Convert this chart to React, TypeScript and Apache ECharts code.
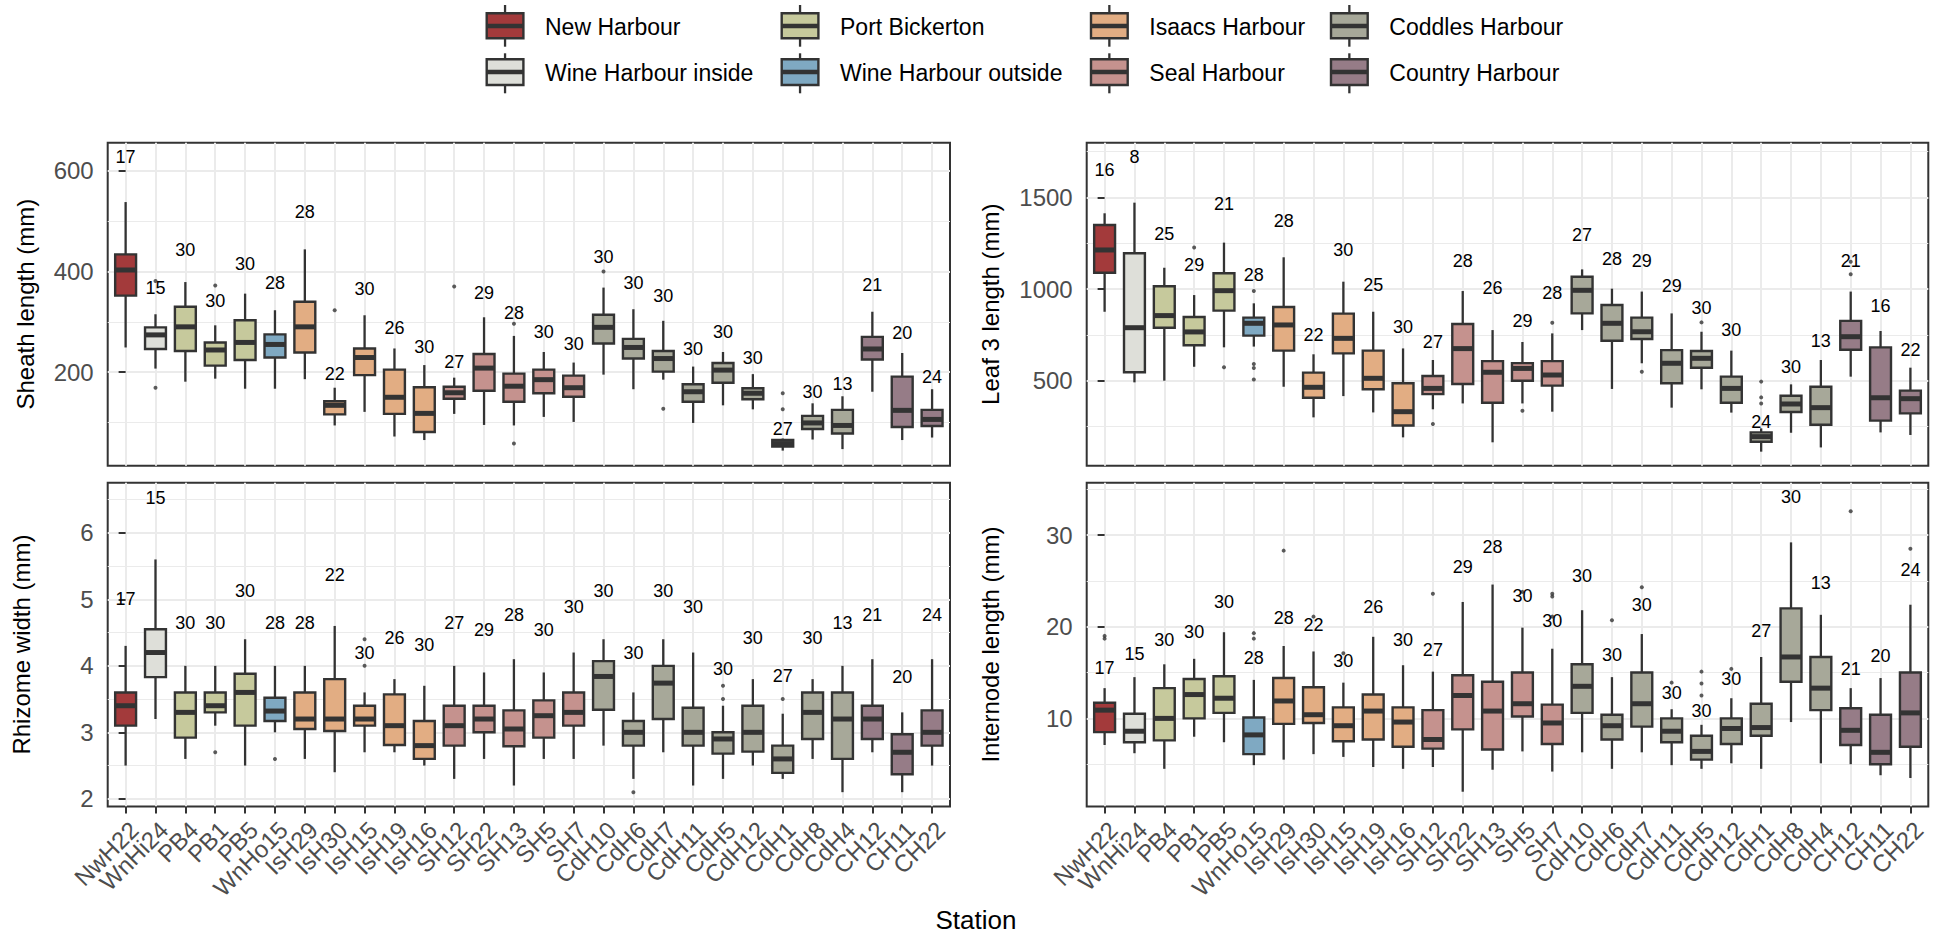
import React, { useEffect, useRef } from 'react';
import * as echarts from 'echarts';

const stations = ['NwH22','WnHi24','PB4','PB1','PB5','WnHo15','IsH29','IsH30','IsH15','IsH19','IsH16','SH12','SH22','SH13','SH5','SH7','CdH10','CdH6','CdH7','CdH11','CdH5','CdH12','CdH1','CdH8','CdH4','CH12','CH11','CH22'];
const groups = ['New Harbour','Wine Harbour inside','Port Bickerton','Wine Harbour outside','Isaacs Harbour','Seal Harbour','Coddles Harbour','Country Harbour'];
const groupColors = ['#A33A3B','#DEDFD9','#C6C99C','#7FA9C2','#E2AD83','#C5928E','#A7A899','#967C87'];
const stationGroup = [0,1,2,2,2,3,4,4,4,4,4,5,5,5,5,5,6,6,6,6,6,6,6,6,6,7,7,7];

// [lower whisker, Q1, median, Q3, upper whisker]
const sheathStats = [
  [249,352,403,434,538],[207,246,274,289,315],[181,242,290,330,379],[187,213,244,259,293],
  [167,224,259,303,356],[167,229,255,275,323],[186,239,290,340,444],[94,116,134,142,169],
  [121,194,229,247,313],[72,117,150,205,247],[65,81,118,170,214],[117,147,159,171,189],
  [95,163,208,236,309],[94,141,172,197,272],[111,158,185,205,240],[101,151,169,193,219],
  [195,257,289,314,368],[166,227,249,266,325],[185,201,227,242,302],[99,141,161,176,211],
  [134,179,204,218,240],[126,146,158,168,196],[44,52,58,65,68],[66,87,99,113,138],
  [47,78,94,125,152],[161,225,246,270,320],[65,91,124,191,238],[70,93,106,125,166]
];
const sheathOutliers = [[1,381],[1,169],[3,372],[7,323],[11,370],[13,296],[13,58],[16,400],[18,127],[22,158],[22,126]];
const sheathN = [17,15,30,30,30,28,28,22,30,26,30,27,29,28,30,30,30,30,30,30,30,30,27,30,13,21,20,24];
const sheathLabelY = [627,368,442,341,414,378,519,197,366,288,249,221,358,318,279,256,428,378,352,246,280,229,87,160,176,373,278,191];

const leafStats = [
  [876,1089,1213,1349,1413],[491,546,789,1195,1471],[500,789,855,1015,1116],[576,693,766,847,967],
  [682,882,991,1086,1253],[686,746,813,844,922],[467,664,804,902,1173],[300,407,464,544,644],
  [416,649,731,866,1040],[327,453,513,664,876],[191,256,331,486,676],[344,427,458,526,613],
  [376,482,675,809,989],[164,380,546,607,776],[376,500,567,596,711],[331,473,531,607,758],
  [776,867,993,1067,1107],[455,718,813,913,1002],[595,727,767,844,986],[353,486,595,667,867],
  [453,571,622,662,767],[326,380,458,522,664],[113,167,195,218,240],[216,329,373,418,480],
  [136,260,353,467,613],[522,669,740,826,986],[218,282,407,682,771],[204,322,402,446,571]
];
const leafOutliers = [[3,1227],[4,573],[5,989],[5,591],[5,569],[5,507],[11,264],[14,336],[15,816],[18,549],[20,818],[22,495],[22,409],[22,376],[25,1080],[25,1149]];
const leafN = [16,8,25,29,21,28,28,22,30,25,30,27,28,26,29,28,27,28,29,29,30,30,24,30,13,21,16,22];
const leafLabelY = [1649,1718,1298,1131,1464,1076,1373,749,1213,1022,791,713,1155,1005,827,981,1293,1166,1153,1016,895,776,276,573,716,1153,907,667];

const rhizomeStats = [
  [2.5,3.1,3.4,3.6,4.3],[3.2,3.83,4.2,4.55,5.6],[2.6,2.92,3.3,3.6,4.0],[3.1,3.3,3.4,3.6,4.0],
  [2.5,3.1,3.6,3.88,4.4],[3.0,3.17,3.32,3.52,4.0],[2.6,3.05,3.2,3.6,4.0],[2.4,3.02,3.2,3.8,4.6],
  [2.7,3.1,3.2,3.4,3.6],[2.7,2.81,3.1,3.57,3.8],[2.5,2.6,2.8,3.17,3.7],[2.3,2.8,3.1,3.4,4.0],
  [2.6,3.0,3.2,3.4,3.9],[2.2,2.79,3.05,3.33,4.1],[2.6,2.92,3.25,3.48,3.9],[2.6,3.1,3.3,3.6,4.2],
  [2.8,3.34,3.84,4.07,4.4],[2.3,2.8,3.0,3.17,3.6],[2.7,3.2,3.74,4.0,4.4],[2.2,2.8,3.0,3.37,4.2],
  [2.3,2.68,2.9,3.0,3.4],[2.5,2.71,3.0,3.4,3.8],[2.3,2.39,2.6,2.8,3.28],[2.6,2.9,3.3,3.6,3.8],
  [2.1,2.6,3.2,3.6,4.0],[2.7,2.9,3.2,3.4,4.1],[2.1,2.37,2.7,2.97,3.3],[2.5,2.8,3.0,3.33,4.1]
];
const rhizomeOutliers = [[3,2.7],[5,2.6],[8,4.4],[8,4.0],[17,2.1],[20,3.7],[20,3.5],[22,3.5]];
const rhizomeN = [17,15,30,30,30,28,28,22,30,26,30,27,29,28,30,30,30,30,30,30,30,30,27,30,13,21,20,24];
const rhizomeLabelY = [5.01,6.53,4.65,4.65,5.13,4.65,4.65,5.36,4.19,4.42,4.31,4.65,4.54,4.77,4.54,4.89,5.13,4.19,5.13,4.89,3.95,4.42,3.84,4.42,4.65,4.77,3.83,4.77];

const internodeStats = [
  [7.1,8.5,10.9,11.7,13.3],[6.2,7.4,8.6,10.5,14.5],[4.5,7.6,10.0,13.3,15.9],[8.0,10.0,12.6,14.3,16.5],
  [7.4,10.6,12.2,14.6,19.4],[4.9,6.1,8.2,10.1,14.2],[5.5,9.4,11.9,14.4,17.9],[6.1,9.5,10.4,13.4,17.3],
  [5.8,7.5,9.2,11.2,13.9],[4.7,7.7,10.8,12.6,18.9],[4.5,6.9,9.6,11.2,15.8],[4.7,6.7,7.7,10.9,15.1],
  [2.0,8.8,12.5,14.7,22.7],[4.4,6.6,10.8,14.0,24.6],[6.4,10.2,11.6,15.0,19.9],[4.2,7.2,9.5,11.5,17.6],
  [6.3,10.6,13.5,15.9,21.8],[4.5,7.7,9.2,10.4,14.5],[6.3,9.1,11.6,15.0,19.2],[4.9,7.4,8.6,10.0,11.0],
  [4.5,5.5,6.4,8.1,9.3],[5.1,7.2,8.9,10.0,12.2],[4.5,8.1,9.0,11.6,16.7],[9.6,14.0,16.7,22.0,29.2],
  [5.1,10.9,13.3,16.7,21.3],[5.0,7.1,8.7,11.1,13.3],[3.8,5.0,6.3,10.4,14.4],[3.5,6.9,10.6,15.0,22.4]
];
const internodeOutliers = [[0,19.0],[0,18.7],[5,19.3],[5,18.7],[6,28.3],[7,21.1],[8,17.1],[11,23.6],[14,23.8],[15,23.6],[15,23.3],[15,21.1],[17,20.7],[18,24.3],[19,13.9],[20,15.1],[20,13.8],[20,12.5],[21,15.4],[25,32.6],[27,28.5]];
const internodeN = [17,15,30,30,30,28,28,22,30,26,30,27,29,28,30,30,30,30,30,30,30,30,27,30,13,21,20,24];
const internodeLabelY = [15.5,17.0,18.6,19.4,22.7,16.6,20.9,20.2,16.3,22.1,18.5,17.5,26.5,28.7,23.3,20.6,25.5,16.9,22.4,12.8,10.8,14.3,19.5,34.1,24.8,15.4,16.8,26.2];

const sheathTicks = [200, 400, 600];
const sheathMinor = [100, 300, 500];
const leafTicks = [500, 1000, 1500];
const leafMinor = [250, 750, 1250, 1750];
const rhizomeTicks = [2, 3, 4, 5, 6];
const rhizomeMinor = [2.5, 3.5, 4.5, 5.5, 6.5];
const internodeTicks = [10, 20, 30];
const internodeMinor = [5, 15, 25, 35];

const FONT = '"Liberation Sans", Arial, Helvetica, sans-serif';
const DARK = '#333333';
const GRID = '#EBEBEB';

export default function App() {
  const ref = useRef<HTMLDivElement>(null);
  useEffect(() => {
    const chart = echarts.init(ref.current!, null, { renderer: 'svg' });
    const idxs = stations.map((_, i) => i);
    const evens = idxs.filter((i) => i % 2 === 0);
    const odds = idxs.filter((i) => i % 2 === 1);

    const panels = [
      { title: 'Sheath length (mm)', stats: sheathStats, out: sheathOutliers, n: sheathN, ly: sheathLabelY, min: 14, max: 656, ticks: sheathTicks, minor: sheathMinor, left: 107.7, top: 142.7, width: 842.3, height: 323, gap: 70, bottom: false },
      { title: 'Leaf 3 length (mm)', stats: leafStats, out: leafOutliers, n: leafN, ly: leafLabelY, min: 36.4, max: 1798, ticks: leafTicks, minor: leafMinor, left: 1086.7, top: 142.7, width: 841.6, height: 323, gap: 84, bottom: false },
      { title: 'Rhizome width (mm)', stats: rhizomeStats, out: rhizomeOutliers, n: rhizomeN, ly: rhizomeLabelY, min: 1.886, max: 6.754, ticks: rhizomeTicks, minor: rhizomeMinor, left: 107.7, top: 482.7, width: 842.3, height: 323.7, gap: 74, bottom: true },
      { title: 'Internode length (mm)', stats: internodeStats, out: internodeOutliers, n: internodeN, ly: internodeLabelY, min: 0.4, max: 35.71, ticks: internodeTicks, minor: internodeMinor, left: 1086.7, top: 482.7, width: 841.6, height: 323.7, gap: 84, bottom: true },
    ];

    const grid: any[] = [];
    const xAxis: any[] = [];
    const yAxis: any[] = [];
    const series: any[] = [];

    const boxRender = (params: any, api: any) => {
      const i = api.value(0);
      const lo = api.coord([i, api.value(1)]);
      const q1 = api.coord([i, api.value(2)]);
      const md = api.coord([i, api.value(3)]);
      const q3 = api.coord([i, api.value(4)]);
      const hi = api.coord([i, api.value(5)]);
      const w = api.size([0.7, 0])[0];
      const x = lo[0];
      const fill = groupColors[stationGroup[i]];
      return {
        type: 'group',
        children: [
          { type: 'line', shape: { x1: x, y1: hi[1], x2: x, y2: q3[1] }, style: { stroke: DARK, lineWidth: 2.3 } },
          { type: 'line', shape: { x1: x, y1: q1[1], x2: x, y2: lo[1] }, style: { stroke: DARK, lineWidth: 2.3 } },
          { type: 'rect', shape: { x: x - w / 2, y: q3[1], width: w, height: q1[1] - q3[1] }, style: { fill, stroke: DARK, lineWidth: 2.4 } },
          { type: 'line', shape: { x1: x - w / 2, y1: md[1], x2: x + w / 2, y2: md[1] }, style: { stroke: DARK, lineWidth: 5 } },
        ],
      };
    };

    const textRender = (params: any, api: any) => {
      const p = api.coord([api.value(0), api.value(1)]);
      return {
        type: 'text', x: p[0], y: p[1],
        style: { text: String(api.value(2)), fill: '#000', fontSize: 18, fontFamily: FONT, align: 'center', verticalAlign: 'middle' },
      };
    };

    const labelAxis = (g: number, values: number[]) => ({
      type: 'value', gridIndex: g, min: -0.6, max: 27.6, position: 'bottom',
      axisLine: { show: false },
      axisTick: { show: true, customValues: values, length: 7, lineStyle: { color: DARK, width: 2 } },
      axisLabel: {
        show: true, customValues: values, formatter: (v: number) => stations[Math.round(Number(v))] ?? '',
        showMinLabel: true, showMaxLabel: true, hideOverlap: false,
        rotate: 45, align: 'right', verticalAlign: 'top', margin: 11, fontSize: 24, color: '#4D4D4D', fontFamily: FONT,
      },
      splitLine: { show: false },
    });

    panels.forEach((p, g) => {
      grid.push({ left: p.left, top: p.top, width: p.width, height: p.height, show: true, borderColor: DARK, borderWidth: 2, backgroundColor: 'transparent' });
      const baseX = xAxis.length;
      xAxis.push({
        type: 'value', gridIndex: g, min: -0.6, max: 27.6, position: 'bottom',
        axisLine: { show: false },
        axisTick: { show: false, customValues: idxs },
        axisLabel: { show: false, customValues: idxs },
        splitLine: { show: true, lineStyle: { color: GRID, width: 2 } },
      });
      if (p.bottom) {
        xAxis.push(labelAxis(g, evens));
        xAxis.push(labelAxis(g, odds));
      }
      const baseY = yAxis.length;
      yAxis.push({
        type: 'value', gridIndex: g, min: p.min, max: p.max, position: 'left',
        axisLine: { show: false },
        axisTick: { show: true, customValues: p.ticks, length: 7, lineStyle: { color: DARK, width: 2 } },
        axisLabel: { customValues: p.ticks, formatter: (v: number) => String(v), showMinLabel: true, showMaxLabel: true, fontSize: 24, color: '#4D4D4D', margin: 14, fontFamily: FONT },
        splitLine: { show: true, lineStyle: { color: GRID, width: 2 } },
        name: p.title, nameLocation: 'middle', nameGap: p.gap,
        nameTextStyle: { fontSize: 24, color: '#000', fontFamily: FONT },
      });
      yAxis.push({
        type: 'value', gridIndex: g, min: p.min, max: p.max, position: 'left',
        axisLine: { show: false },
        axisTick: { show: false, customValues: p.minor },
        axisLabel: { show: false, customValues: p.minor },
        splitLine: { show: true, lineStyle: { color: GRID, width: 1.2 } },
      });
      series.push({
        type: 'custom', xAxisIndex: baseX, yAxisIndex: baseY,
        data: p.stats.map((s, i) => [i, ...s]),
        encode: { x: 0, y: [1, 2, 3, 4, 5] },
        renderItem: boxRender, z: 3,
      });
      series.push({
        type: 'scatter', xAxisIndex: baseX, yAxisIndex: baseY,
        data: p.out, symbolSize: 4, itemStyle: { color: DARK }, z: 4,
      });
      series.push({
        type: 'custom', xAxisIndex: baseX, yAxisIndex: baseY,
        data: p.ly.map((y, i) => [i, y, p.n[i]]),
        encode: { x: 0, y: 1 },
        renderItem: textRender, z: 5,
      });
    });

    const keyLefts = [486.7, 781.7, 1091, 1331];
    const rowBox = [[13.3, 38.3, 26, 5, 46.7], [59.3, 85, 72, 53.3, 93.3]];
    const legend: any[] = [];
    groups.forEach((name, gi) => {
      const col = Math.floor(gi / 2);
      const row = gi % 2;
      const x0 = keyLefts[col];
      const [bt, bb, bm, wt, wb] = rowBox[row];
      const kw = 36.7;
      const cx = x0 + kw / 2;
      legend.push({ type: 'line', shape: { x1: cx, y1: wt, x2: cx, y2: wb }, style: { stroke: DARK, lineWidth: 2.3 } });
      legend.push({ type: 'rect', shape: { x: x0, y: bt, width: kw, height: bb - bt }, style: { fill: groupColors[gi], stroke: DARK, lineWidth: 2.4 } });
      legend.push({ type: 'line', shape: { x1: x0, y1: bm, x2: x0 + kw, y2: bm }, style: { stroke: DARK, lineWidth: 4.5 } });
      legend.push({ type: 'text', x: x0 + 58.3, y: bm + 0.7, style: { text: name, fill: '#000', fontSize: 23, fontFamily: FONT, align: 'left', verticalAlign: 'middle' } });
    });
    legend.push({ type: 'text', x: 976, y: 920, style: { text: 'Station', fill: '#000', fontSize: 26, fontFamily: FONT, align: 'center', verticalAlign: 'middle' } });

    chart.setOption({
      animation: false,
      backgroundColor: '#ffffff',
      grid, xAxis, yAxis, series,
      graphic: legend,
    });
    return () => chart.dispose();
  }, []);
  return <div ref={ref} style={{ position: 'fixed', left: 0, top: 0, width: 1944, height: 937, background: '#fff' }} />;
}
